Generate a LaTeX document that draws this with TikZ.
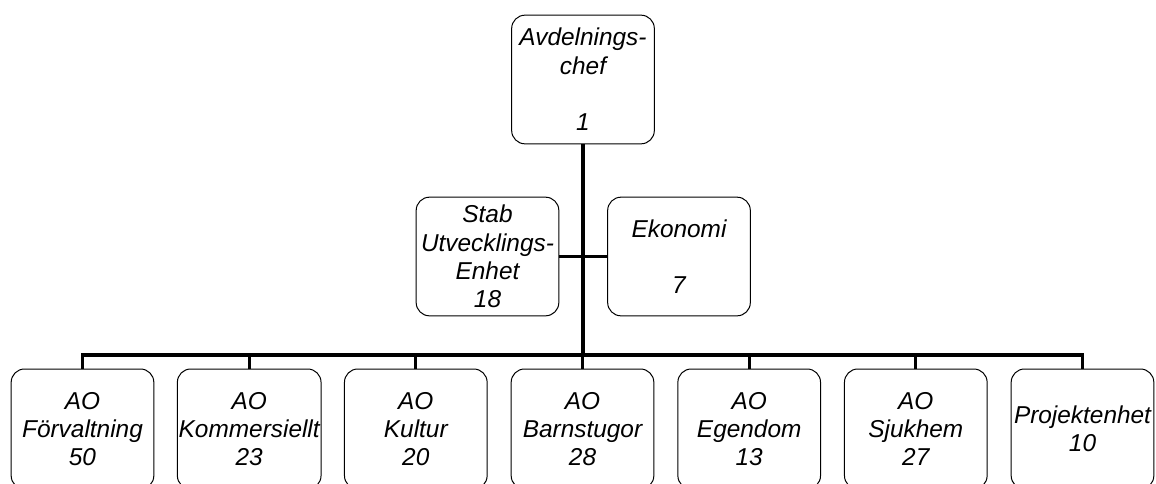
\documentclass[tikz,border=0pt]{standalone}
\usepackage{fontspec}
\setmainfont{Liberation Sans}
\usetikzlibrary{positioning}

\tikzset{
  unitbox/.style={draw,line width=0.75pt,rounded corners=10pt,align=center,inner sep=1pt,
    minimum width=107pt,font=\itshape\fontsize{18.3}{21.3}\selectfont},
  link/.style={line width=2.4pt}
}

\begin{document}
\begin{tikzpicture}[x=0.75pt,y=-0.75pt]
  \useasboundingbox (0,0) rectangle (1156,483);
  % top level
  \node[unitbox,minimum height=96.5pt] (chef) at (583,79.5) {Avdelnings-\\chef\\[21pt]1};
  % staff units
  \node[unitbox,minimum height=89pt] (stab) at (487.5,256.5) {Stab\\Utvecklings-\\Enhet\\18};
  \node[unitbox,minimum height=89pt] (eko) at (679,256.5) {Ekonomi\\[21pt]7};
  % operational units
  \foreach \n/\x/\t in {ao1/82.5/{AO\\Förvaltning\\50},ao2/249.2/{AO\\Kommersiellt\\23},
      ao3/415.8/{AO\\Kultur\\20},ao4/582.5/{AO\\Barnstugor\\28},ao5/749.2/{AO\\Egendom\\13},
      ao6/915.8/{AO\\Sjukhem\\27},ao7/1082.5/{Projektenhet\\10}}{
    \node[unitbox,minimum height=90pt] (\n) at (\x,429) {\t};
  }
  \coordinate (bar) at (583,355);
  \draw[link] (chef.south) -- (bar);
  \draw[link] (stab.east) -- (eko.west);
  \draw[link,line cap=rect] (ao1.north |- bar) -- (ao7.north |- bar);
  \foreach \n in {ao1,ao2,ao3,ao4,ao5,ao6,ao7}{
    \draw[link] (\n.north |- bar) -- (\n.north);
  }
\end{tikzpicture}
\end{document}
